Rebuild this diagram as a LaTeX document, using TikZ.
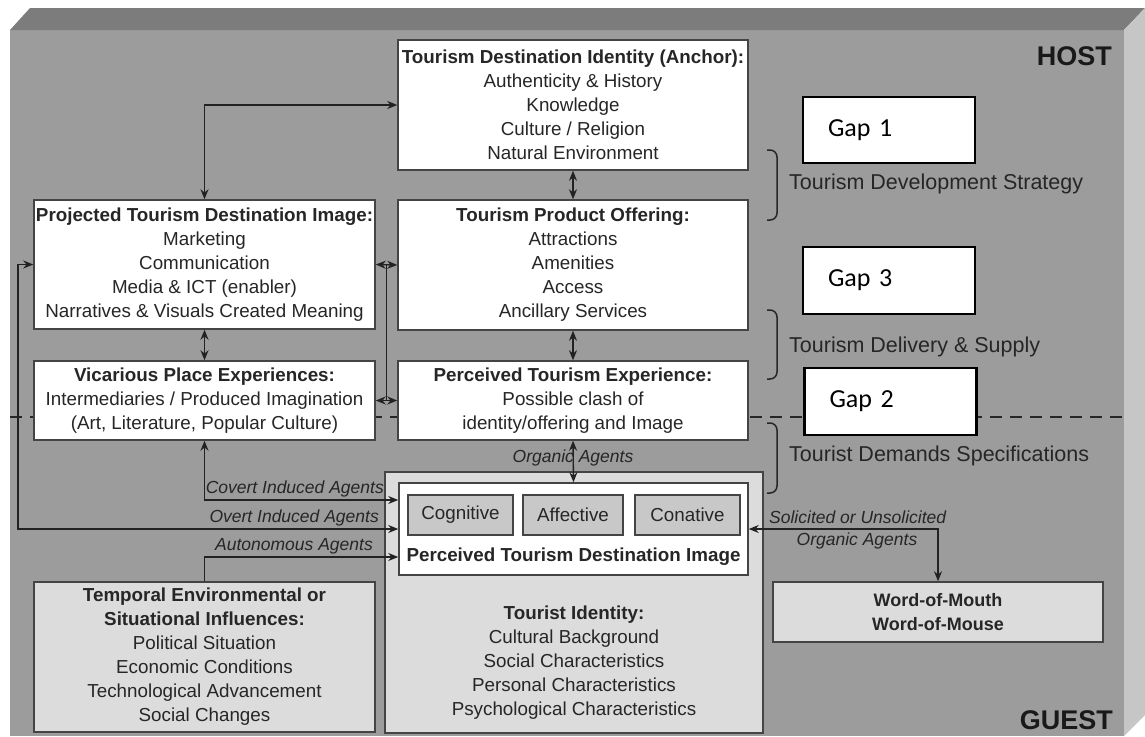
\documentclass[tikz,border=0pt]{standalone}
\usepackage{fontspec}
\setmainfont{Liberation Sans}
\newfontfamily\gapfont{Carlito}
\usetikzlibrary{arrows.meta,calc}
\definecolor{facegray}{HTML}{9C9C9C}
\definecolor{topgray}{HTML}{7C7C7C}
\definecolor{sidegray}{HTML}{C6C6C6}
\definecolor{lightbox}{HTML}{DCDCDC}
\definecolor{subbox}{HTML}{C8C8C8}
\definecolor{ink}{HTML}{262626}
\definecolor{edge}{HTML}{444444}
\definecolor{wire}{HTML}{222222}
\begin{document}
\begin{tikzpicture}[x=1pt,y=-1pt,
  >={Stealth[length=10pt,width=8pt]},
  box/.style={draw=edge, line width=1.5pt, fill=white, align=center, text=ink,
    inner sep=0pt, font=\fontsize{18.8}{24}\selectfont},
  gbox/.style={box, fill=lightbox},
  wh/.style 2 args={minimum width=#1pt, minimum height=#2pt},
  subcell/.style={box, fill=subbox, line width=1.2pt},
  gapbox/.style={draw=black, line width=2.2pt, fill=white, text=black, align=left,
    text width=122pt, inner xsep=25pt, inner ysep=0pt, minimum height=66pt,
    font=\gapfont\fontsize{26}{30}\selectfont},
  agent/.style={text=ink, inner sep=0pt, font=\fontsize{17.5}{20}\selectfont\itshape},
  phase/.style={text=ink, inner sep=0pt, anchor=west, font=\fontsize{21.5}{24}\selectfont},
  zone/.style={text=black!90, inner sep=0pt, anchor=east, font=\fontsize{27}{30}\selectfont\bfseries},
  link/.style={draw=wire, line width=1.4pt},
  brace/.style={draw=ink, line width=1.5pt, rounded corners=7pt},
  hdash/.style={draw=ink, line width=2pt, dash pattern=on 12pt off 8pt}
]
\useasboundingbox (0,0) rectangle (1145,736);

% three-dimensional frame
\fill[facegray] (10,30) rectangle (1124,736);
\fill[topgray] (10,30) -- (30,8) -- (1145,8) -- (1124,30) -- cycle;
\fill[sidegray] (1124,30) -- (1145,8) -- (1145,715) -- (1124,736) -- cycle;

% host / guest boundary
\draw[hdash] (10,417) -- (1124,417);

\node[zone] (host) at (1112,56) {HOST};
\node[zone] (guest) at (1113,720) {GUEST};

% host-side boxes
\node[box, wh={350}{130}] (ident) at (573,105)
  {{\bfseries Tourism Destination Identity (Anchor):}\\Authenticity \& History\\Knowledge\\Culture / Religion\\Natural Environment};
\node[box, wh={350}{130}] (prod) at (573,265)
  {{\bfseries Tourism Product Offering:}\\Attractions\\Amenities\\Access\\Ancillary Services};
\node[box, wh={341}{129}] (proj) at (204.5,264.5)
  {{\bfseries Projected Tourism Destination Image:}\\Marketing\\Communication\\Media \& ICT (enabler)\\Narratives \& Visuals Created Meaning};
\node[box, wh={341}{79}] (vic) at (204.5,400.5)
  {{\bfseries Vicarious Place Experiences:}\\Intermediaries / Produced Imagination\\(Art, Literature, Popular Culture)};
\node[box, wh={350}{79}] (exp) at (573,400.5)
  {{\bfseries Perceived Tourism Experience:}\\Possible clash of\\identity/offering and Image};

% guest-side boxes
\node[gbox, wh={378}{261}] (tourist) at (574,602.5) {};
\node[box, wh={349}{92}] (pimg) at (573.5,529) {};
\node[subcell, wh={105}{40}] (cog) at (460.5,515) {Cognitive};
\node[subcell, wh={100}{40}] (aff) at (573,515) {Affective};
\node[subcell, wh={105}{40}] (con) at (687.5,515) {Conative};
\node[text=ink, inner sep=0pt, font=\fontsize{18.8}{24}\selectfont\bfseries] (pimgt) at (573.5,557)
  {Perceived Tourism Destination Image};
\node[text=ink, align=center, inner sep=0pt, font=\fontsize{18.8}{24}\selectfont] (tidt) at (574,663)
  {{\bfseries Tourist Identity:}\\Cultural Background\\Social Characteristics\\Personal Characteristics\\Psychological Characteristics};
\node[gbox, wh={341}{150}] (temp) at (204.5,657)
  {{\bfseries Temporal Environmental or}\\{\bfseries Situational Influences:}\\Political Situation\\Economic Conditions\\Technological Advancement\\Social Changes};
\node[gbox, wh={330}{60}, font=\fontsize{18}{24}\selectfont\bfseries] (wom) at (938,612)
  {Word-of-Mouth\\Word-of-Mouse};

% gaps
\node[gapbox] (gap1) at (889,130) {Gap 1};
\node[gapbox, minimum height=67pt] (gap3) at (889,280.5) {Gap 3};
\node[gapbox, minimum height=67pt] (gap2) at (890.5,401.5) {Gap 2};

% phase brackets and labels
\draw[brace] (767,150) -- (777,150) -- (777,220) -- (767,220);
\draw[brace] (767,310) -- (777,310) -- (777,379) -- (767,379);
\draw[brace] (767,423) -- (777,423) -- (777,493) -- (767,493);
\node[phase] (devs) at (789,184) {Tourism Development Strategy};
\node[phase] (dels) at (789,347) {Tourism Delivery \& Supply};
\node[phase] (dems) at (789,456) {Tourist Demands Specifications};

% agent labels
\node[agent, anchor=east] (lcov) at (384,489) {Covert Induced Agents};
\node[agent, anchor=east] (lovt) at (379,518) {Overt Induced Agents};
\node[agent, anchor=east] (laut) at (373,546) {Autonomous Agents};
\node[agent] (lorg) at (573,458) {Organic Agents};
\node[agent, anchor=west] (lsol) at (769,517) {Solicited or Unsolicited};
\node[agent] (lsol2) at (857,541) {Organic Agents};

% connectors
\coordinate (leftrail) at (18,529);
\draw[link, <->] (ident.south) -- (prod.north);
\draw[link, <->] (prod.south) -- (exp.north);
\draw[link, <->] (proj.south) -- (vic.north);
\draw[link, <->] (proj.north) |- (ident.west);
\draw[link, <->] (proj.east) -- (prod.west);
\draw[link, <->] (vic.east) -- (exp.west);
\draw[link] ($(proj.east)!0.5!(prod.west)$) -- ($(vic.east)!0.5!(exp.west)$);
\draw[link, <->] (exp.south) -- (pimg.north);
\draw[link, <->] (proj.west) -| (leftrail) -- (pimg.west);
\draw[link, <->] (vic.south) |- ([yshift=29pt]pimg.west);
\draw[link, ->] (temp.north) |- ([yshift=-28pt]pimg.west);
\draw[link, <->] (pimg.east) -| (wom.north);
\end{tikzpicture}
\end{document}
